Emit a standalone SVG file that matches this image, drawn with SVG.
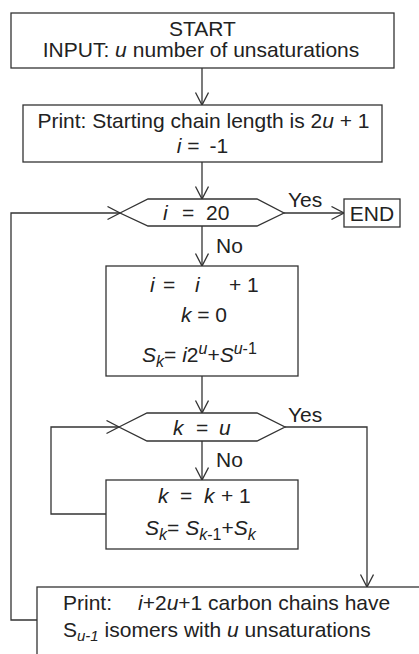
<svg xmlns="http://www.w3.org/2000/svg" width="419" height="654" viewBox="0 0 419 654">
<style>
.box{fill:#fff;stroke:#333;stroke-width:1.3}
.ln{fill:none;stroke:#333;stroke-width:1.3}
text{font-family:"Liberation Sans",Arial,sans-serif;font-size:21px;fill:#222}
.it{font-style:italic}
.sm{font-size:16px}
</style>
<defs>
<marker id="arr" markerUnits="userSpaceOnUse" markerWidth="16" markerHeight="16" refX="13" refY="7" orient="auto">
<path d="M0.5,0.5 L13,7 L0.5,13.5" fill="none" stroke="#333" stroke-width="1.3"/>
</marker>
</defs>
<rect width="419" height="654" fill="#fff"/>
<g id="connectors">
<path class="ln" d="M202,68 V105" marker-end="url(#arr)"/>
<path class="ln" d="M202,162 V199" marker-end="url(#arr)"/>
<path class="ln" d="M284,213 H344" marker-end="url(#arr)"/>
<path class="ln" d="M202,226 V266" marker-end="url(#arr)"/>
<path class="ln" d="M202,376 V413" marker-end="url(#arr)"/>
<path class="ln" d="M202,441 V480" marker-end="url(#arr)"/>
<path class="ln" d="M285,427 H367 V587" marker-end="url(#arr)"/>
<path class="ln" d="M106,514 H51 V427 H119" marker-end="url(#arr)"/>
<path class="ln" d="M37,620 H11 V213 H120" marker-end="url(#arr)"/>
<text x="288" y="207">Yes</text>
<text x="216" y="253">No</text>
<text x="288" y="422">Yes</text>
<text x="216" y="467">No</text>
</g>
<g id="start">
<rect class="box" x="11" y="13" width="383" height="55"/>
<text x="202.5" y="36" text-anchor="middle">START</text>
<text x="201" y="57" text-anchor="middle">INPUT: <tspan class="it">u</tspan><tspan dx="6">number of unsaturations</tspan></text>
</g>
<g id="init">
<rect class="box" x="23" y="105" width="359" height="57"/>
<text x="203.5" y="128" text-anchor="middle">Print: Starting chain length is 2<tspan class="it">u</tspan> + 1</text>
<text x="202.5" y="153" text-anchor="middle"><tspan class="it">i</tspan> = <tspan dx="4">-1</tspan></text>
</g>
<g id="cond-i">
<path class="box" d="M120,213 L148,199 H257 L284,213 L257,226 H148 Z"/>
<text x="163" y="220"><tspan class="it">i</tspan><tspan x="182">=</tspan><tspan x="206">20</tspan></text>
</g>
<g id="end">
<rect class="box" x="344" y="199" width="56" height="28"/>
<text x="372" y="221" text-anchor="middle">END</text>
</g>
<g id="update-i">
<rect class="box" x="106" y="266" width="192" height="110"/>
<text x="150" y="292"><tspan class="it">i</tspan><tspan x="163">=</tspan><tspan x="195" class="it">i</tspan><tspan x="229">+ 1</tspan></text>
<text x="204" y="322" text-anchor="middle"><tspan class="it">k</tspan> = 0</text>
<text x="142" y="362"><tspan class="it">S</tspan><tspan class="it sm" dy="5">k</tspan><tspan dy="-5">= </tspan><tspan class="it">i</tspan>2<tspan class="sm it" dy="-8">u</tspan><tspan dy="8">+</tspan><tspan class="it">S</tspan><tspan class="sm it" dy="-8">u</tspan><tspan class="sm">-1</tspan></text>
</g>
<g id="cond-k">
<path class="box" d="M119,427 L147,413 H257 L285,427 L257,441 H147 Z"/>
<text x="173" y="435"><tspan class="it">k</tspan><tspan x="196">=</tspan><tspan x="219" class="it">u</tspan></text>
</g>
<g id="update-k">
<rect class="box" x="106" y="480" width="192" height="69"/>
<text x="158" y="503"><tspan class="it">k</tspan><tspan x="180">=</tspan><tspan x="204" class="it">k</tspan><tspan x="221">+ 1</tspan></text>
<text x="145" y="535"><tspan class="it">S</tspan><tspan class="it sm" dy="5">k</tspan><tspan dy="-5">= </tspan><tspan class="it">S</tspan><tspan class="it sm" dy="5">k</tspan><tspan class="sm">-1</tspan><tspan dy="-5">+</tspan><tspan class="it">S</tspan><tspan class="it sm" dy="5">k</tspan></text>
</g>
<g id="print">
<rect class="box" x="37" y="587" width="400" height="90"/>
<text x="63" y="610">Print:<tspan x="138" class="it">i</tspan>+2<tspan class="it">u</tspan>+1 carbon chains have</text>
<text x="63" y="637">S<tspan class="it" style="font-size:15px" dy="4">u-1</tspan><tspan dy="-4"> isomers with </tspan><tspan class="it">u</tspan> unsaturations</text>
</g>
</svg>
